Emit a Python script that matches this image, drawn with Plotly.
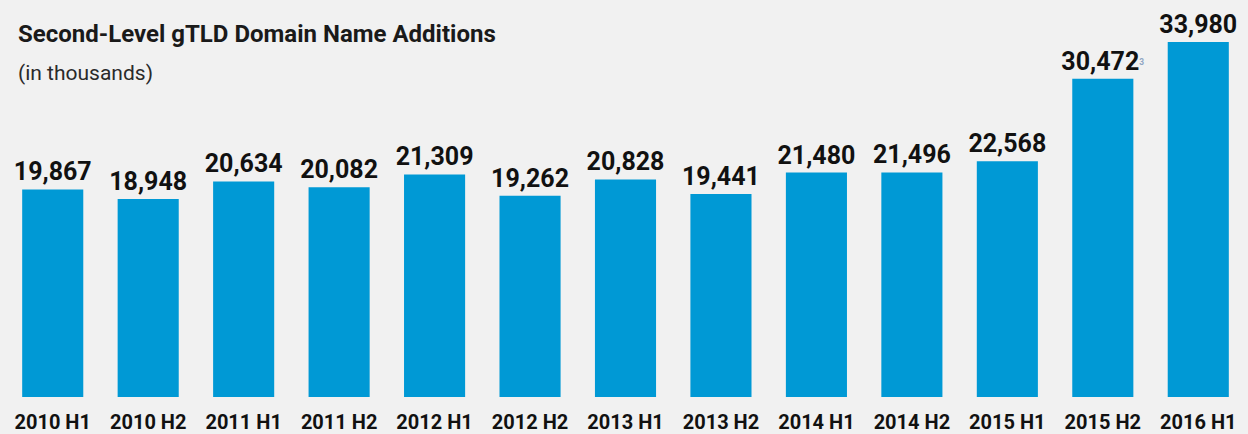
import plotly.graph_objects as go

periods = ["2010 H1", "2010 H2", "2011 H1", "2011 H2", "2012 H1", "2012 H2", "2013 H1",
           "2013 H2", "2014 H1", "2014 H2", "2015 H1", "2015 H2", "2016 H1"]
additions = [19867, 18948, 20634, 20082, 21309, 19262, 20828,
             19441, 21480, 21496, 22568, 30472, 33980]
footnotes = ["", "", "", "", "", "", "", "", "", "", "", "3", ""]

FONT = "Roboto, Arial, sans-serif"
BG = "#f1f1f1"
BAR = "#0099d5"

labels = []
for v, note in zip(additions, footnotes):
    s = f"{v:,}"
    if note:
        s += f"<span style='color:#8fa7c4;font-size:12px'><sup>{note}</sup></span>"
    labels.append(s)

fig = go.Figure()
fig.add_trace(go.Bar(
    x=periods, y=additions,
    text=labels, textposition="outside",
    textfont=dict(family=FONT, size=25, color="#111111", weight="bold"),
    constraintext="none", cliponaxis=False,
    marker=dict(color=BAR, line=dict(width=0)),
    hoverinfo="x+y",
))

fig.add_annotation(text="<b>Second-Level gTLD Domain Name Additions</b>",
                   xref="paper", yref="paper", x=(16 - 5) / 1241, y=1 - 34 / 397,
                   xanchor="left", yanchor="middle", showarrow=False,
                   font=dict(family=FONT, size=24, color="#1a1a1a"))
fig.add_annotation(text="(in thousands)",
                   xref="paper", yref="paper", x=(16 - 5) / 1241, y=1 - 73 / 397,
                   xanchor="left", yanchor="middle", showarrow=False,
                   font=dict(family=FONT, size=21, color="#2a2a2a"))

fig.update_layout(
    width=1248, height=434,
    margin=dict(l=5, r=2, t=0, b=37),
    paper_bgcolor=BG, plot_bgcolor=BG,
    bargap=0.36, showlegend=False,
    xaxis=dict(showgrid=False, zeroline=False, showline=False, ticks="",
               ticklabelstandoff=11,
               tickfont=dict(family=FONT, size=20, color="#111111", weight="bold")),
    yaxis=dict(range=[0, 38000], visible=False, showgrid=False),
)

fig.write_html("out.html", config={"displayModeBar": False},
               post_script="document.body.style.margin='0';")
